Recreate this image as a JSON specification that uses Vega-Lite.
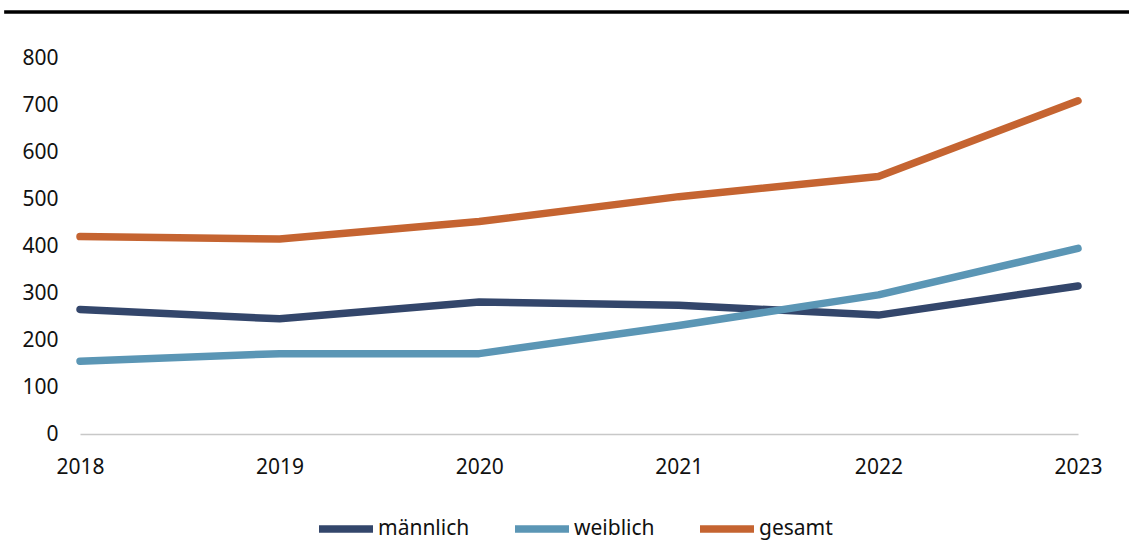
{
  "$schema": "https://vega.github.io/schema/vega-lite/v6.json",
  "autosize": {"type": "none"},
  "width": 998,
  "height": 376,
  "padding": {"left": 80, "top": 58, "right": 51, "bottom": 107},
  "background": "white",
  "config": {
    "font": "Noto Sans",
    "view": {"stroke": null},
    "axis": {"labelFont": "Noto Sans", "labelColor": "#111111", "labelFontSize": 21}
  },
  "layer": [
    {
      "data": {"values": [{}]},
      "mark": {"type": "rule", "color": "black", "strokeWidth": 3.5, "clip": false},
      "encoding": {
        "y": {"datum": 898, "type": "quantitative"},
        "x": {"datum": 2017.62, "type": "quantitative"},
        "x2": {"datum": 2023.26}
      }
    },
    {
      "data": {
        "values": [
          {"Jahr": 2018, "Gruppe": "männlich", "Anzahl": 265},
          {"Jahr": 2019, "Gruppe": "männlich", "Anzahl": 245},
          {"Jahr": 2020, "Gruppe": "männlich", "Anzahl": 281},
          {"Jahr": 2021, "Gruppe": "männlich", "Anzahl": 274},
          {"Jahr": 2022, "Gruppe": "männlich", "Anzahl": 253},
          {"Jahr": 2023, "Gruppe": "männlich", "Anzahl": 315},
          {"Jahr": 2018, "Gruppe": "weiblich", "Anzahl": 155},
          {"Jahr": 2019, "Gruppe": "weiblich", "Anzahl": 171},
          {"Jahr": 2020, "Gruppe": "weiblich", "Anzahl": 171},
          {"Jahr": 2021, "Gruppe": "weiblich", "Anzahl": 231},
          {"Jahr": 2022, "Gruppe": "weiblich", "Anzahl": 296},
          {"Jahr": 2023, "Gruppe": "weiblich", "Anzahl": 395},
          {"Jahr": 2018, "Gruppe": "gesamt", "Anzahl": 420},
          {"Jahr": 2019, "Gruppe": "gesamt", "Anzahl": 415},
          {"Jahr": 2020, "Gruppe": "gesamt", "Anzahl": 452},
          {"Jahr": 2021, "Gruppe": "gesamt", "Anzahl": 505},
          {"Jahr": 2022, "Gruppe": "gesamt", "Anzahl": 548},
          {"Jahr": 2023, "Gruppe": "gesamt", "Anzahl": 709}
        ]
      },
      "mark": {"type": "line", "strokeWidth": 7.5, "strokeCap": "round", "strokeJoin": "round"},
      "encoding": {
        "x": {
          "field": "Jahr", "type": "quantitative",
          "scale": {"domain": [2018, 2023], "nice": false, "zero": false},
          "axis": {
            "title": null, "values": [2018, 2019, 2020, 2021, 2022, 2023], "format": "d",
            "grid": false, "ticks": false, "domainColor": "#c8c8c8", "domainWidth": 1.5,
            "labelPadding": 22, "labelFlush": false
          }
        },
        "y": {
          "field": "Anzahl", "type": "quantitative",
          "scale": {"domain": [0, 800], "nice": false},
          "axis": {
            "title": null, "values": [0, 100, 200, 300, 400, 500, 600, 700, 800],
            "domain": false, "ticks": false, "gridColor": "#d9d9d9", "gridWidth": 1.3,
            "labelPadding": 22
          }
        },
        "color": {
          "field": "Gruppe", "type": "nominal",
          "scale": {"domain": ["männlich", "weiblich", "gesamt"], "range": ["#33466b", "#5b96b5", "#c56431"]},
          "legend": {
            "title": null, "orient": "none", "legendX": 235, "legendY": 440,
            "direction": "horizontal", "symbolType": "stroke", "symbolSize": 2916,
            "symbolStrokeWidth": 7.5, "labelFontSize": 21, "labelColor": "#111111",
            "labelOffset": 1, "columnPadding": 30, "padding": 0
          }
        }
      }
    }
  ]
}
